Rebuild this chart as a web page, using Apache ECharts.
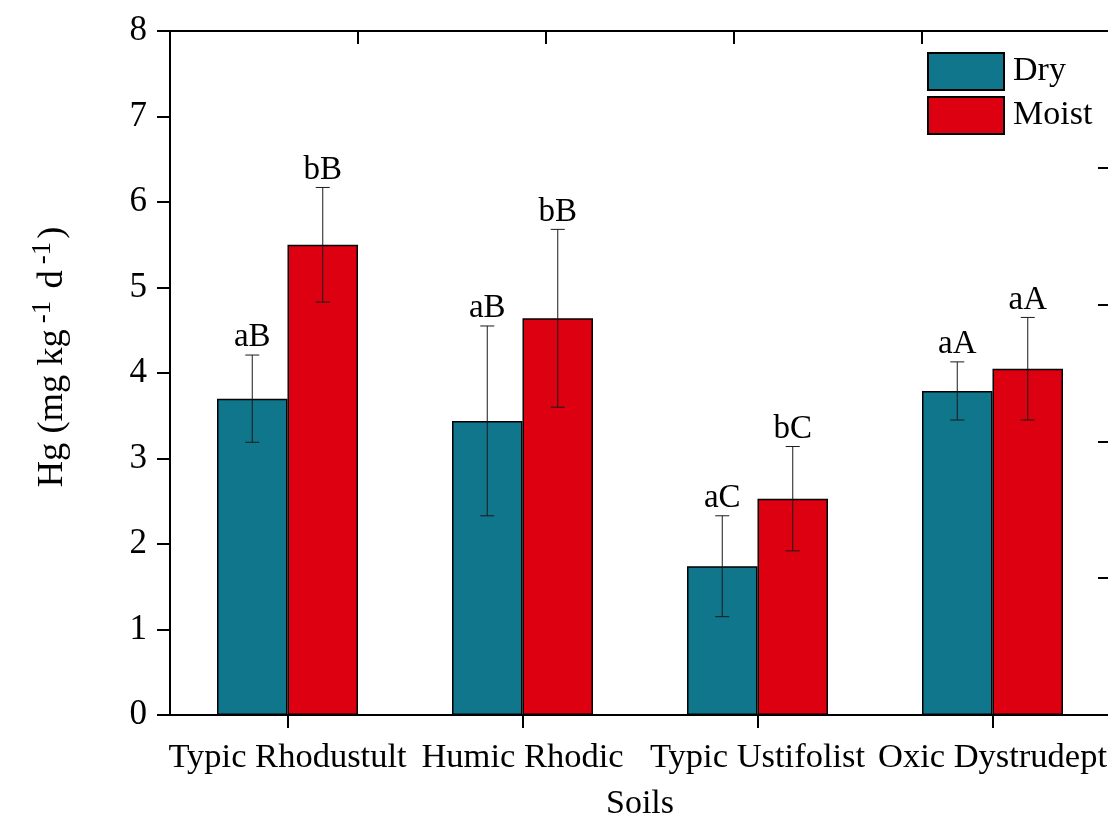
<!DOCTYPE html>
<html>
<head>
<meta charset="utf-8">
<script src="https://cdn.jsdelivr.net/npm/echarts@6/dist/echarts.min.js"></script>
<style>
  html, body { margin: 0; padding: 0; background: #fff; }
  #chart { width: 1108px; height: 817px; }
</style>
</head>
<body>
<div id="chart"></div>
<script>
// Hg release by soil type under dry and moist conditions (mean ± error)
const categories = ['Typic Rhodustult', 'Humic Rhodic', 'Typic Ustifolist', 'Oxic Dystrudept'];
const dryMean = [3.70, 3.44, 1.74, 3.79];
const dryErr = [0.51, 1.11, 0.59, 0.34];
const moistMean = [5.50, 4.64, 2.53, 4.05];
const moistErr = [0.67, 1.04, 0.61, 0.60];
const dryLetters = ['aB', 'aB', 'aC', 'aA'];
const moistLetters = ['bB', 'bB', 'bC', 'aA'];
const yTicks = [0, 1, 2, 3, 4, 5, 6, 7, 8];

const FONT = '"Liberation Serif", "Times New Roman", serif';
const DRY = '#10768b';
const MOIST = '#dd0010';

const chart = echarts.init(document.getElementById('chart'), null, { renderer: 'canvas' });

// error bar with cap and significance letters; side = -1 (left bar) or +1 (right bar)
function errRenderer(side, errs, letters) {
  return function (params, api) {
    const i = api.value(0);
    const m = api.value(1);
    const e = errs[params.dataIndex];
    const band = api.size([1, 0])[0];
    const off = side * band * 0.6 / 4;
    const x = api.coord([i, m])[0] + off;
    const top = api.coord([i, m + e])[1];
    const bot = api.coord([i, m - e])[1];
    const hw = 7;
    const ls = { stroke: '#1a1a1a', lineWidth: 1 };
    return {
      type: 'group',
      children: [
        { type: 'line', shape: { x1: x, y1: top, x2: x, y2: bot }, style: ls },
        { type: 'line', shape: { x1: x - hw, y1: top, x2: x + hw, y2: top }, style: ls },
        { type: 'line', shape: { x1: x - hw, y1: bot, x2: x + hw, y2: bot }, style: ls },
        {
          type: 'text', x: x, y: top - 1,
          style: {
            text: letters[params.dataIndex], fill: '#000',
            font: '33px ' + FONT, textAlign: 'center', textVerticalAlign: 'bottom'
          }
        }
      ]
    };
  };
}

const axisLine = { show: true, onZero: false, lineStyle: { color: '#000', width: 2 } };

const option = {
  animation: false,
  backgroundColor: '#fff',
  grid: { left: 170, right: -2, top: 31, bottom: 102, containLabel: false, outerBoundsMode: 'none' },
  legend: {
    orient: 'vertical', left: 927, top: 52, padding: 0,
    itemWidth: 76, itemHeight: 37, itemGap: 5,
    icon: 'rect',
    textStyle: { fontFamily: FONT, fontSize: 34, color: '#000', padding: [0, 0, 0, 4] },
    data: ['Dry', 'Moist']
  },
  xAxis: [
    {
      type: 'category', data: categories, position: 'bottom',
      axisLine: axisLine,
      axisTick: { show: true, alignWithLabel: true, length: 13, lineStyle: { color: '#000', width: 2 } },
      axisLabel: { fontFamily: FONT, fontSize: 34.5, color: '#000', margin: 25, interval: 0 },
      name: 'Soils', nameLocation: 'middle', nameGap: 72,
      nameTextStyle: { fontFamily: FONT, fontSize: 34, color: '#000' }
    },
    {
      type: 'value', position: 'top', min: 0, max: 5, interval: 1,
      axisLine: axisLine,
      axisTick: { show: true, inside: true, length: 13, lineStyle: { color: '#000', width: 2 } },
      axisLabel: { show: false }, splitLine: { show: false }
    }
  ],
  yAxis: [
    {
      type: 'value', min: 0, max: 8, interval: 1, position: 'left',
      axisLine: axisLine,
      axisTick: { show: true, length: 13, lineStyle: { color: '#000', width: 2 } },
      axisLabel: {
        fontFamily: FONT, fontSize: 35, color: '#000', margin: 23,
        formatter: v => (yTicks.indexOf(v) >= 0 ? String(v) : '')
      },
      splitLine: { show: false }
    },
    {
      type: 'value', min: 0, max: 5, interval: 1, position: 'right',
      axisLine: axisLine,
      axisTick: { show: true, inside: true, length: 12, lineStyle: { color: '#000', width: 2 } },
      axisLabel: { show: false }, splitLine: { show: false }
    }
  ],
  graphic: [
    {
      type: 'text', x: 50, y: 357, rotation: Math.PI / 2,
      style: {
        text: '{n|Hg (mg kg}{s|-1}{n| d}{s|-1}{n|)}',
        textAlign: 'center', textVerticalAlign: 'middle',
        rich: {
          n: { fontFamily: FONT, fontSize: 36.5, fill: '#000', lineHeight: 42, verticalAlign: 'bottom' },
          s: { fontFamily: FONT, fontSize: 27, fill: '#000', lineHeight: 27, verticalAlign: 'top', padding: [0, 3, 0, 6] }
        }
      }
    }
  ],
  series: [
    {
      name: 'Dry', type: 'bar', data: dryMean,
      barGap: '0%', barCategoryGap: '40%',
      itemStyle: { color: DRY, borderColor: '#000', borderWidth: 1.5 }
    },
    {
      name: 'Moist', type: 'bar', data: moistMean,
      barGap: '0%', barCategoryGap: '40%',
      itemStyle: { color: MOIST, borderColor: '#000', borderWidth: 1.5 }
    },
    {
      type: 'custom', name: 'DryErr', z: 5,
      renderItem: errRenderer(-1, dryErr, dryLetters),
      data: dryMean.map((v, i) => [i, v]),
      encode: { x: 0, y: 1 }, silent: true
    },
    {
      type: 'custom', name: 'MoistErr', z: 5,
      renderItem: errRenderer(1, moistErr, moistLetters),
      data: moistMean.map((v, i) => [i, v]),
      encode: { x: 0, y: 1 }, silent: true
    }
  ]
};

chart.setOption(option);
</script>
</body>
</html>
